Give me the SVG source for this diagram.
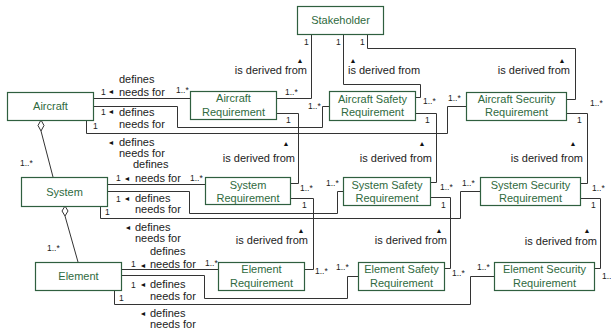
<svg xmlns="http://www.w3.org/2000/svg" width="611" height="329" viewBox="0 0 611 329">
  <style>
    .node rect { fill: #ffffff; stroke: #2f5f3f; stroke-width: 1.2; }
    .node text { font-family: "Liberation Sans", Arial, sans-serif; font-size: 11px; fill: #2f6a40; text-anchor: middle; }
    .edge { fill: none; stroke: #333333; stroke-width: 1; }
    .agg { fill: #ffffff; stroke: #333333; stroke-width: 1; }
    .lbl { font-family: "Liberation Sans", Arial, sans-serif; font-size: 11px; fill: #222222; }
    .mul { font-family: "Liberation Sans", Arial, sans-serif; font-size: 8.5px; fill: #222222; }
    .dir { font-family: "Liberation Sans", "DejaVu Sans", sans-serif; font-size: 7px; fill: #111111; text-anchor: middle; }
    .end { text-anchor: end; }
  </style>

  <!-- connectors -->
  <g id="connectors">
    <!-- Stakeholder derivations -->
    <polyline class="edge" points="311.5,34 311.5,98.5 276,98.5"/>
    <polyline class="edge" points="343.5,34 343.5,84.5 420.5,84.5 420.5,97.5 415,97.5"/>
    <polyline class="edge" points="367.5,34 367.5,48.5 575.5,48.5 575.5,99.5 566,99.5"/>

    <!-- Aircraft defines needs for -->
    <polyline class="edge" points="93,98.5 190,98.5"/>
    <polyline class="edge" points="93,106.5 177.5,106.5 177.5,127.5 322.5,127.5 322.5,106.5 329,106.5"/>
    <polyline class="edge" points="86.5,120 86.5,133.5 447.5,133.5 447.5,106.5 466,106.5"/>

    <!-- System defines needs for -->
    <polyline class="edge" points="107,184.5 205,184.5"/>
    <polyline class="edge" points="107,191.5 189.5,191.5 189.5,213.5 337.5,213.5 337.5,191.5 343,191.5"/>
    <polyline class="edge" points="100.5,206 100.5,218.5 460.5,218.5 460.5,191.5 480,191.5"/>

    <!-- Element defines needs for -->
    <polyline class="edge" points="121,269.5 218,269.5"/>
    <polyline class="edge" points="121,275.5 204.5,275.5 204.5,298.5 347.5,298.5 347.5,276.5 358,276.5"/>
    <polyline class="edge" points="114.5,290 114.5,304.5 470.5,304.5 470.5,276.5 494,276.5"/>

    <!-- requirement derivations -->
    <polyline class="edge" points="276,113.5 298.5,113.5 298.5,183.5 290,183.5"/>
    <polyline class="edge" points="415,113.5 436.5,113.5 436.5,182.5 430,182.5"/>
    <polyline class="edge" points="566,113.5 587.5,113.5 587.5,183.5 580,183.5"/>
    <polyline class="edge" points="290,198.5 313.5,198.5 313.5,269.5 304,269.5"/>
    <polyline class="edge" points="430,197.5 450.5,197.5 450.5,268.5 444,268.5"/>
    <polyline class="edge" points="580,198.5 600.5,198.5 600.5,268.5 594,268.5"/>

    <!-- aggregations -->
    <line class="edge" x1="41" y1="131" x2="53" y2="177"/>
    <polygon class="agg" points="41,120 44,125.5 41,131 38,125.5"/>
    <line class="edge" x1="65" y1="216" x2="78" y2="262"/>
    <polygon class="agg" points="65,206 68,211 65,216 62,211"/>

    <!-- labels: Stakeholder derivations -->
    <text class="mul" x="304" y="45">1</text>
    <text class="mul" x="336" y="45">1</text>
    <text class="mul" x="360" y="45">1</text>
    <text class="mul" x="285" y="95">1..*</text>
    <text class="mul" x="423" y="104">1..*</text>
    <text class="mul" x="590" y="106">1..*</text>
    <text class="dir" x="300" y="63">▲</text>
    <text class="lbl end" x="307" y="74">is derived from</text>
    <text class="dir" x="353" y="63">▲</text>
    <text class="lbl" x="348" y="74">is derived from</text>
    <text class="dir" x="562" y="63">▲</text>
    <text class="lbl end" x="570" y="74">is derived from</text>

    <!-- labels: Aircraft -->
    <text class="lbl" x="119" y="83">defines</text>
    <text class="mul" x="101" y="95">1</text>
    <text class="dir" x="111" y="94">◄</text>
    <text class="lbl" x="119" y="96">needs for</text>
    <text class="mul" x="176" y="93">1..*</text>
    <text class="mul" x="101" y="115">1</text>
    <text class="dir" x="111" y="114">◄</text>
    <text class="lbl" x="119" y="116">defines</text>
    <text class="lbl" x="119" y="128">needs for</text>
    <text class="mul" x="308" y="109">1..*</text>
    <text class="mul" x="93" y="129">1</text>
    <text class="dir" x="111" y="145">◄</text>
    <text class="lbl" x="119" y="146">defines</text>
    <text class="lbl" x="119" y="157">needs for</text>
    <text class="mul" x="448" y="101">1..*</text>

    <!-- labels: System -->
    <text class="lbl" x="133" y="168">defines</text>
    <text class="mul" x="116" y="181">1</text>
    <text class="dir" x="127" y="181">◄</text>
    <text class="lbl" x="135" y="182">needs for</text>
    <text class="mul" x="190" y="181">1..*</text>
    <text class="mul" x="116" y="202">1</text>
    <text class="dir" x="127" y="201">◄</text>
    <text class="lbl" x="135" y="202">defines</text>
    <text class="lbl" x="135" y="213">needs for</text>
    <text class="mul" x="326" y="186">1..*</text>
    <text class="mul" x="105" y="215">1</text>
    <text class="dir" x="128" y="230">◄</text>
    <text class="lbl" x="135" y="231">defines</text>
    <text class="lbl" x="135" y="242">needs for</text>
    <text class="mul" x="462" y="186">1..*</text>

    <!-- labels: Element -->
    <text class="lbl" x="150" y="255">defines</text>
    <text class="mul" x="131" y="267">1</text>
    <text class="dir" x="143" y="268">◄</text>
    <text class="lbl" x="150" y="268">needs for</text>
    <text class="mul" x="205" y="266">1..*</text>
    <text class="mul" x="131" y="288">1</text>
    <text class="dir" x="143" y="287">◄</text>
    <text class="lbl" x="150" y="288">defines</text>
    <text class="lbl" x="150" y="300">needs for</text>
    <text class="mul" x="336" y="270">1..*</text>
    <text class="mul" x="119" y="301">1</text>
    <text class="dir" x="143" y="316">◄</text>
    <text class="lbl" x="150" y="317">defines</text>
    <text class="lbl" x="150" y="328">needs for</text>
    <text class="mul" x="477" y="270">1..*</text>

    <!-- labels: requirement derivations -->
    <text class="mul" x="286" y="123">1</text>
    <text class="mul" x="300" y="191">1..*</text>
    <text class="dir" x="286" y="146">▲</text>
    <text class="lbl end" x="295" y="162">is derived from</text>
    <text class="mul" x="425" y="123">1</text>
    <text class="mul" x="440" y="190">1..*</text>
    <text class="dir" x="422" y="146">▲</text>
    <text class="lbl end" x="432" y="162">is derived from</text>
    <text class="mul" x="577" y="123">1</text>
    <text class="mul" x="592" y="191">1..*</text>
    <text class="dir" x="573" y="146">▲</text>
    <text class="lbl end" x="583" y="162">is derived from</text>
    <text class="mul" x="302" y="208">1</text>
    <text class="mul" x="315" y="274">1..*</text>
    <text class="dir" x="301" y="233">▲</text>
    <text class="lbl end" x="308" y="244">is derived from</text>
    <text class="mul" x="441" y="208">1</text>
    <text class="mul" x="452" y="276">1..*</text>
    <text class="dir" x="439" y="233">▲</text>
    <text class="lbl end" x="447" y="244">is derived from</text>
    <text class="mul" x="591" y="208">1</text>
    <text class="mul" x="602" y="279">1..*</text>
    <text class="dir" x="587" y="233">▲</text>
    <text class="lbl end" x="597" y="245">is derived from</text>

    <!-- aggregation multiplicities -->
    <text class="mul" x="20" y="166">1..*</text>
    <text class="mul" x="47" y="251">1..*</text>
  </g>

  <!-- nodes -->
  <g id="stakeholder" class="node">
    <rect x="297.5" y="6.5" width="86" height="28"/>
    <text x="340.5" y="24">Stakeholder</text>
  </g>
  <g id="aircraft" class="node">
    <rect x="7.5" y="92.5" width="86" height="28"/>
    <text x="50.5" y="110">Aircraft</text>
  </g>
  <g id="system" class="node">
    <rect x="21.5" y="177.5" width="86" height="29"/>
    <text x="64.5" y="195.5">System</text>
  </g>
  <g id="element" class="node">
    <rect x="35.5" y="262.5" width="86" height="28"/>
    <text x="78.5" y="280">Element</text>
  </g>

  <g id="aircraft-requirement" class="node">
    <rect x="190.5" y="91.5" width="86" height="28"/>
    <text x="233.5" y="102">Aircraft</text>
    <text x="233.5" y="116">Requirement</text>
  </g>
  <g id="aircraft-safety-requirement" class="node">
    <rect x="329.5" y="91.5" width="86" height="29"/>
    <text x="372.5" y="103">Aircraft Safety</text>
    <text x="372.5" y="116">Requirement</text>
  </g>
  <g id="aircraft-security-requirement" class="node">
    <rect x="466.5" y="92.5" width="100" height="28"/>
    <text x="516.5" y="103">Aircraft Security</text>
    <text x="516.5" y="116">Requirement</text>
  </g>

  <g id="system-requirement" class="node">
    <rect x="205.5" y="177.5" width="85" height="27"/>
    <text x="248" y="189">System</text>
    <text x="248" y="202">Requirement</text>
  </g>
  <g id="system-safety-requirement" class="node">
    <rect x="343.5" y="177.5" width="87" height="28"/>
    <text x="387" y="189">System Safety</text>
    <text x="387" y="202">Requirement</text>
  </g>
  <g id="system-security-requirement" class="node">
    <rect x="480.5" y="177.5" width="100" height="28"/>
    <text x="530.5" y="189">System Security</text>
    <text x="530.5" y="202">Requirement</text>
  </g>

  <g id="element-requirement" class="node">
    <rect x="218.5" y="262.5" width="86" height="28"/>
    <text x="261.5" y="273">Element</text>
    <text x="261.5" y="287">Requirement</text>
  </g>
  <g id="element-safety-requirement" class="node">
    <rect x="358.5" y="262.5" width="86" height="28"/>
    <text x="401.5" y="273">Element Safety</text>
    <text x="401.5" y="287">Requirement</text>
  </g>
  <g id="element-security-requirement" class="node">
    <rect x="494.5" y="262.5" width="100" height="28"/>
    <text x="544.5" y="273">Element Security</text>
    <text x="544.5" y="287">Requirement</text>
  </g>
</svg>
